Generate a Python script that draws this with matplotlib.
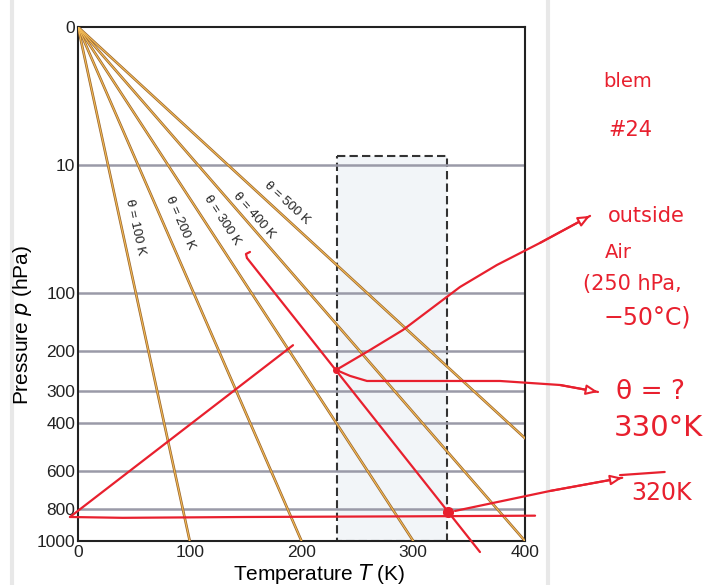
import numpy as np
import matplotlib
matplotlib.use('Agg')
import matplotlib.pyplot as plt
from matplotlib.patches import Rectangle
from matplotlib.lines import Line2D

plt.rcParams['font.family'] = ['Liberation Sans', 'DejaVu Sans']

KAPPA = 0.286

# ---- chart data ----
theta_values = [100, 200, 300, 400, 500]
theta_labels = ['θ = 100 K', 'θ = 200 K', 'θ = 300 K', 'θ = 400 K', 'θ = 500 K']
label_T = [51, 91, 129, 157, 187]
label_p = [37, 34.3, 32.5, 29.7, 23.6]

p_ticks = [0, 10, 100, 200, 300, 400, 600, 800, 1000]
p_grid = [10, 100, 200, 300, 400, 600, 800]
T_ticks = [0, 100, 200, 300, 400]

box_T = [232, 330]
box_p = [8, 1000]

# ---- hand-drawn red annotation data (T in K, p in hPa) ----
red_theta_T = [151.2, 359.7]
red_theta_p = [61, 1077]
hook_T = [151.2, 150.3, 153.9]
hook_p = [61, 57.4, 55.6]
diag_T = [-7.2, 192.4]
diag_p = [846, 187]
horiz_T = [-7.2, 40, 150, 300, 409]
horiz_p = [846, 851, 846, 842, 838]
outside_air = (231, 243)
surface_pt = (331, 816)
curve_outside_T = [231, 258.6, 290.8, 341.8, 374.9, 413.4, 458.2]
curve_outside_p = [243, 201, 157.5, 92.3, 67.7, 48.2, 30.2]
curve_theta_T = [231, 243.4, 258.6, 332.9, 377.6, 431.3, 465.3]
curve_theta_p = [243, 258, 271.4, 271.4, 271.4, 282.3, 302]
curve_320_T = [337.4, 422.4, 487]
curve_320_p = [810, 699, 632]
bar_320_T = [485, 525]
bar_320_p = [619, 604]

RED = '#e8202e'
W, H = 718, 585

fig = plt.figure(figsize=(W / 100, H / 100), dpi=100)
fig.patch.set_facecolor('white')

# page edges (behind everything)
fig.add_artist(Line2D([12 / W, 12 / W], [0, 1], color='#e8e8e8', lw=3, zorder=-5))
fig.add_artist(Line2D([548 / W, 548 / W], [0, 1], color='#e8e8e8', lw=3, zorder=-5))

ax = fig.add_axes([78 / W, 1 - 541 / H, (525 - 78) / W, (541 - 27) / H])


def fwd(p):
    p = np.asarray(p, dtype=float)
    return np.sign(p) * np.abs(p / 1000.0) ** KAPPA


def inv(y):
    y = np.asarray(y, dtype=float)
    return 1000.0 * np.sign(y) * np.abs(y) ** (1.0 / KAPPA)


ax.set_yscale('function', functions=(fwd, inv))
ax.set_ylim(1000, 0)
ax.set_xlim(0, 400)

# dashed box
ax.add_patch(Rectangle((box_T[0], box_p[0]), box_T[1] - box_T[0], box_p[1] - box_p[0],
                       facecolor='#f2f5f8', edgecolor='#333333', lw=1.5,
                       linestyle=(0, (4, 2)), zorder=1))

# isobars
for pg in p_grid:
    ax.axhline(pg, color='#9a9aa8', lw=1.8, zorder=2)

# dry adiabats
pp = np.linspace(0, 1000, 300)
for th in theta_values:
    TT = th * (pp / 1000.0) ** KAPPA
    ax.plot(TT, pp, color='#9a6630', lw=1.9, zorder=3, solid_capstyle='butt')
    ax.plot(TT, pp, color='#f5bd55', lw=0.8, zorder=3.1)

ax.set_yticks(p_ticks)
ax.set_yticklabels([str(v) for v in p_ticks])
ax.set_xticks(T_ticks)
ax.set_xticklabels([str(v) for v in T_ticks])
ax.minorticks_off()
ax.tick_params(axis='both', length=0, labelsize=12.5, colors='#222222')
ax.tick_params(axis='y', pad=2)
ax.tick_params(axis='x', pad=3)
for s in ax.spines.values():
    s.set_linewidth(1.5)
    s.set_color('#222222')

ax.set_xlabel('Temperature $\\mathit{T}$ (K)', fontsize=15)
ax.set_ylabel('Pressure $\\mathit{p}$ (hPa)', fontsize=15)
ax.xaxis.set_label_coords(0.54, -0.04)
ax.yaxis.set_label_coords(-0.098, 0.42)

# theta labels aligned with lines
fig.canvas.draw()
for th, lab, tx, py in zip(theta_values, theta_labels, label_T, label_p):
    pa, pb = 20.0, 60.0
    a = ax.transData.transform((th * (pa / 1000) ** KAPPA, pa))
    b = ax.transData.transform((th * (pb / 1000) ** KAPPA, pb))
    ang = np.degrees(np.arctan2(b[1] - a[1], b[0] - a[0]))
    ax.text(tx, py, lab, rotation=ang, rotation_mode='anchor', ha='center', va='center',
            fontsize=9.5, color='#222222', zorder=4)

# ---- red hand annotations ----
kw = dict(color=RED, lw=1.6, clip_on=False, zorder=6, solid_capstyle='round')
ax.plot(red_theta_T, red_theta_p, **kw)
ax.plot(hook_T, hook_p, **kw)
ax.plot(diag_T, diag_p, **kw)
ax.plot(horiz_T, horiz_p, **kw)
ax.plot(curve_outside_T, curve_outside_p, **kw)
ax.plot(curve_theta_T, curve_theta_p, **kw)
ax.plot(curve_320_T, curve_320_p, **kw)
ax.plot(bar_320_T, bar_320_p, **kw)
ax.plot(*outside_air, 'o', color=RED, ms=4, clip_on=False, zorder=7)
ax.plot(*surface_pt, 'o', color=RED, ms=7, clip_on=False, zorder=7)

for xs, ys in [(curve_outside_T, curve_outside_p), (curve_theta_T, curve_theta_p),
               (curve_320_T, curve_320_p)]:
    ax.annotate('', xy=(xs[-1], ys[-1]), xytext=(xs[-2], ys[-2]),
                arrowprops=dict(arrowstyle='-|>,head_length=0.7,head_width=0.3',
                                ec=RED, fc='white', lw=1.5, shrinkA=0, shrinkB=0),
                annotation_clip=False, zorder=7)

hand = dict(color=RED, ha='center', va='center', family=['DejaVu Sans'])
fig.text(628 / W, 1 - 82 / H, 'blem', fontsize=14, **hand)
fig.text(630 / W, 1 - 130 / H, '#24', fontsize=15, **hand)
fig.text(646 / W, 1 - 216 / H, 'outside', fontsize=15, **hand)
fig.text(618 / W, 1 - 252 / H, 'Air', fontsize=14, **hand)
fig.text(632 / W, 1 - 284 / H, '(250 hPa,', fontsize=15, **hand)
fig.text(647 / W, 1 - 318 / H, '−50°C)', fontsize=17, **hand)
fig.text(650 / W, 1 - 392 / H, 'θ = ?', fontsize=19, **hand)
fig.text(658 / W, 1 - 428 / H, '330°K', fontsize=21, **hand)
fig.text(662 / W, 1 - 493 / H, '320K', fontsize=17, **hand)

fig.savefig('out.png', dpi=100)
